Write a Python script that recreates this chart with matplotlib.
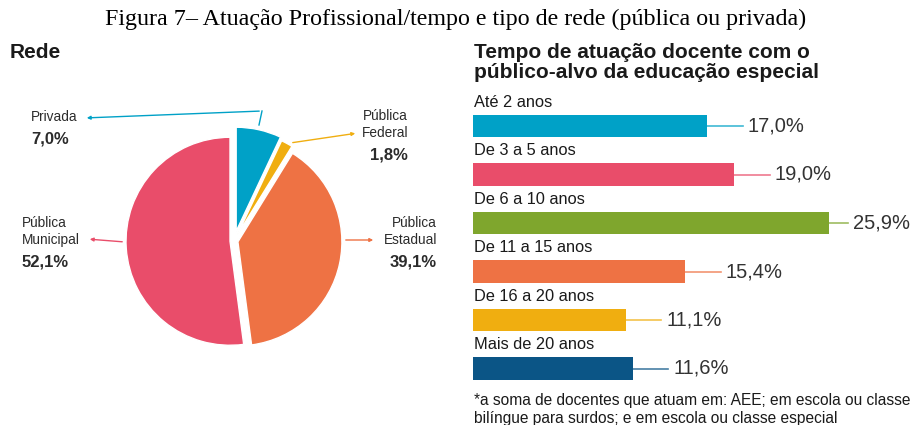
import matplotlib
matplotlib.use('Agg')
import matplotlib.pyplot as plt
import numpy as np

W, H = 913, 425

# pie data
rede_labels = [['Privada'], ['Pública', 'Federal'], ['Pública', 'Estadual'], ['Pública', 'Municipal']]
rede_values = [7.0, 1.8, 39.1, 52.1]
rede_text = ['7,0%', '1,8%', '39,1%', '52,1%']
rede_colors = ['#00a1c7', '#f0ae10', '#ee7244', '#e94d6a']
rede_explode = [0.10, 0.07, 0.04, 0.04]

# bar data
tempo_labels = ['Até 2 anos', 'De 3 a 5 anos', 'De 6 a 10 anos',
                'De 11 a 15 anos', 'De 16 a 20 anos', 'Mais de 20 anos']
tempo_values = [17.0, 19.0, 25.9, 15.4, 11.1, 11.6]
tempo_text = ['17,0%', '19,0%', '25,9%', '15,4%', '11,1%', '11,6%']
tempo_colors = ['#00a1c7', '#e94d6a', '#7fa62d', '#ee7244', '#f0ae10', '#0b5586']
leader_len = [2.6, 2.6, 1.4, 2.6, 2.6, 2.6]

plt.rcParams['font.family'] = ['Liberation Sans', 'DejaVu Sans']
fig = plt.figure(figsize=(W / 100, H / 100), dpi=100)


def fx(x):
    return x / W


def fy(y):
    return 1 - y / H


# title
fig.text(fx(456), fy(19), 'Figura 7– Atuação Profissional/tempo e tipo de rede (pública ou privada)',
         family='Liberation Serif', fontsize=17.3, ha='center', va='center', color='black')

# ---- pie ----
fig.text(fx(10), fy(53), 'Rede', fontsize=15, fontweight='bold', ha='left', va='center', color='#1a1a1a')

cx, cy = 234, 241
size = 260
ax1 = fig.add_axes([fx(cx - size / 2), fy(cy + size / 2), size / W, size / H])
ax1.pie(rede_values, colors=rede_colors, startangle=90, counterclock=False,
        explode=rede_explode, radius=1.04,
        wedgeprops=dict(edgecolor='white', linewidth=1.0))
ax1.set_xlim(-1.3, 1.3)
ax1.set_ylim(-1.3, 1.3)
ax1.set_aspect('equal')
ax1.axis('off')

lab_fs = 9.8
val_fs = 12
txt_col = '#2b2b2b'


def pie_label(x, y_top, name, val, ha):
    for k, line in enumerate(name):
        fig.text(fx(x), fy(y_top + 17 * k), line, fontsize=lab_fs, ha=ha, va='center', color=txt_col)
    fig.text(fx(x), fy(y_top + 17 * (len(name) - 1) + 22), val, fontsize=val_fs, fontweight='bold',
             ha=ha, va='center', color=txt_col)


pie_label(31, 117, rede_labels[0], rede_text[0], 'left')
pie_label(408, 116, rede_labels[1], rede_text[1], 'right')
pie_label(437, 223, rede_labels[2], rede_text[2], 'right')
pie_label(22, 223, rede_labels[3], rede_text[3], 'left')


def leader(points, color):
    xs = [fx(p[0]) for p in points]
    ys = [fy(p[1]) for p in points]
    fig.add_artist(plt.Line2D(xs[:-1], ys[:-1], color=color, lw=1, transform=fig.transFigure))
    fig.add_artist(matplotlib.patches.FancyArrowPatch(
        (xs[-2], ys[-2]), (xs[-1], ys[-1]), transform=fig.transFigure,
        arrowstyle='-|>', mutation_scale=5, color=color, lw=1))


leader([(259, 125), (262, 111), (84, 118)], rede_colors[0])
leader([(290, 143), (358, 133)], rede_colors[1])
leader([(343, 240), (376, 240)], rede_colors[2])
leader([(125, 242), (87, 239)], rede_colors[3])

# ---- bars ----
fig.text(fx(474), fy(53), 'Tempo de atuação docente com o', fontsize=15, fontweight='bold',
         ha='left', va='center', color='#1a1a1a')
fig.text(fx(474), fy(73), 'público-alvo da educação especial', fontsize=15, fontweight='bold',
         ha='left', va='center', color='#1a1a1a')

x0 = 473
ppu = 13.75
ax2 = fig.add_axes([fx(x0), fy(126 + 48.5 * 5.5), 31 * ppu / W, 48.5 * 6 / H])
y = np.arange(len(tempo_values))
ax2.barh(y, tempo_values, height=0.455, color=tempo_colors)
for i, v in enumerate(tempo_values):
    ax2.plot([v, v + leader_len[i]], [i, i], color=tempo_colors[i], lw=1.2, alpha=0.75,
             clip_on=False)
    ax2.text(v + leader_len[i] + 0.35, i, tempo_text[i], fontsize=14.5, va='center', ha='left',
             color='#333333', clip_on=False)
    ax2.text(0.05, i - 0.49, tempo_labels[i], fontsize=11.8, va='center', ha='left', color='#1a1a1a')
ax2.set_xlim(0, 31)
ax2.set_ylim(5.5, -0.5)
ax2.axis('off')

fig.text(fx(474), fy(400), '*a soma de docentes que atuam em: AEE; em escola ou classe',
         fontsize=11.2, ha='left', va='center', color='#1a1a1a')
fig.text(fx(474), fy(419), 'bilíngue para surdos; e em escola ou classe especial',
         fontsize=11.2, ha='left', va='center', color='#1a1a1a')

fig.savefig('out.png', dpi=100)
